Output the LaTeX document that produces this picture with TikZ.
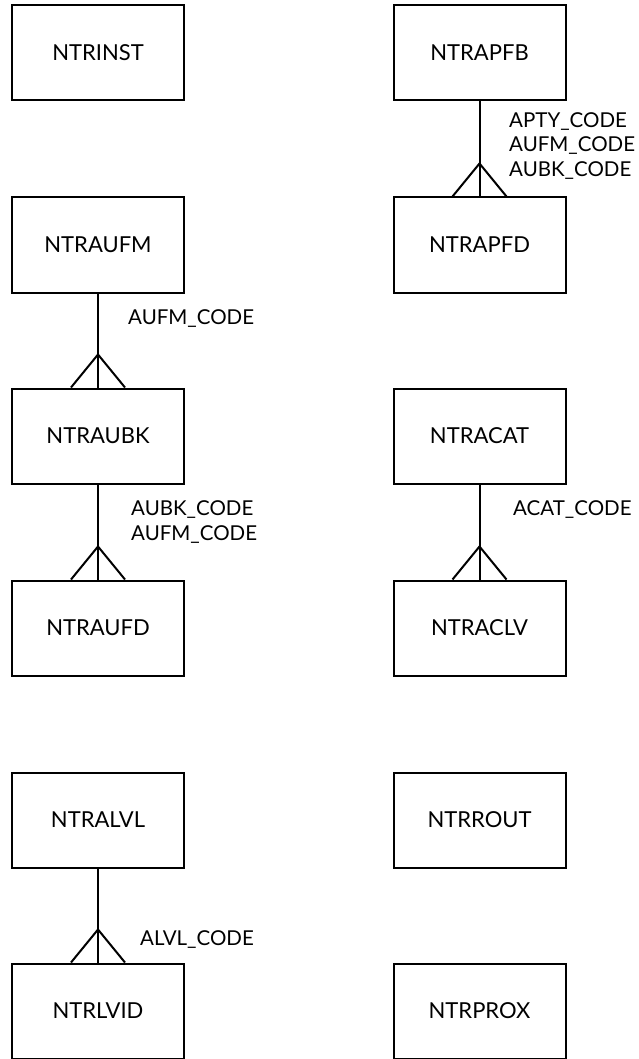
\documentclass[tikz,border=0pt]{standalone}
\usepackage{fontspec}
\setmainfont{Lato}
\begin{document}
\begin{tikzpicture}[x=1pt,y=-1pt,
  entity/.style={draw,line width=2pt,minimum width=172pt,minimum height=95pt,
    inner sep=0pt,font=\fontsize{22}{26}\selectfont},
  relname/.style={anchor=west,align=left,inner sep=0pt,font=\fontsize{20.5}{24.5}\selectfont},
  rel/.style={line width=2pt},
]
\useasboundingbox (0,0) rectangle (638,1059);

% left column
\node[entity] (inst) at (98,53)   {NTRINST};
\node[entity] (aufm) at (98,245)  {NTRAUFM};
\node[entity] (aubk) at (98,436)  {NTRAUBK};
\node[entity] (aufd) at (98,628)  {NTRAUFD};
\node[entity] (alvl) at (98,820)  {NTRALVL};
\node[entity] (lvid) at (98,1011) {NTRLVID};

% right column
\node[entity] (apfb) at (479.5,53)   {NTRAPFB};
\node[entity] (apfd) at (479.5,245)  {NTRAPFD};
\node[entity] (acat) at (479.5,436)  {NTRACAT};
\node[entity] (aclv) at (479.5,628)  {NTRACLV};
\node[entity] (rout) at (479.5,820)  {NTRROUT};
\node[entity] (prox) at (479.5,1011) {NTRPROX};

% one-to-many links with crow's feet at the child end
\foreach \p/\c in {aufm/aubk, aubk/aufd, alvl/lvid, apfb/apfd, acat/aclv}{
  \draw[rel] (\p.south) -- (\c.north);
  \draw[rel] ([xshift=-27pt]\c.north) -- ([yshift=33pt]\c.north) -- ([xshift=27pt]\c.north);
}

% key labels
\node[relname] (k1) at (128,319) {AUFM\_CODE};
\node[relname] (k2) at (131,522) {AUBK\_CODE\\AUFM\_CODE};
\node[relname] (k3) at (509,146) {APTY\_CODE\\AUFM\_CODE\\AUBK\_CODE};
\node[relname] (k4) at (513,510) {ACAT\_CODE};
\node[relname] (k5) at (140,940) {ALVL\_CODE};
\end{tikzpicture}
\end{document}
